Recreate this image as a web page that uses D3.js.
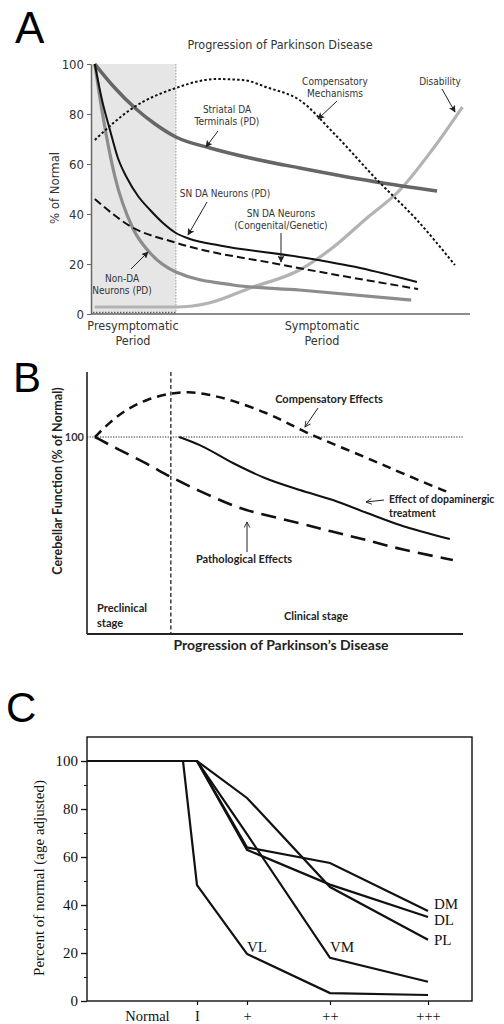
<!DOCTYPE html>
<html>
<head>
<meta charset="utf-8">
<script src="https://cdn.jsdelivr.net/npm/d3@7"></script>
<style>
body { margin: 0; background: #fff; }
svg { display: block; }
.narrow { font-family: "Liberation Sans Narrow", "Arial Narrow", "DejaVu Sans Condensed", sans-serif; }
.calib { font-family: Lato, "Open Sans", sans-serif; font-weight: 700; }
.serif { font-family: "Liberation Serif", "Times New Roman", serif; }
.letter { font-family: "Liberation Sans", Arial, sans-serif; }
</style>
</head>
<body>
<div class="canvas"></div>
<script>
// ---------- panel A: [time, % of normal]
const presympEnd = 22.4;
const aTicks = [0, 20, 40, 60, 80, 100];
const striatal   = [[1,100],[6.3,90.4],[11.6,82.4],[16.9,76],[22.4,70.8],[31.4,66.4],[42,62.4],[55.1,58.4],[77,52.4],[91.3,49.2]];
const compensA   = [[1,69.6],[11,82.4],[22.4,90.4],[33,94],[40,93.6],[46.5,90.6],[55,85.6],[64,72.4],[75.5,53.6],[86,37.6],[96,19.6]];
const disability = [[1,2.8],[22.4,2.8],[31.4,4.5],[42,10.4],[55,17.6],[64,26.8],[72.8,38.4],[81.5,49.6],[90,65.6],[98,82.8]];
const snPD       = [[1,100],[2.9,85.6],[5,73.6],[7.1,62.4],[9.5,54.4],[12.4,47.2],[15.6,41.6],[19,36.4],[22.4,32.4],[26.1,30],[34,27.4],[55,22.8],[71,18.4],[86,12.8]];
const snGenetic  = [[1,46],[10.5,35],[22.4,28.5],[50.7,19.6],[86.3,10]];
const nonDA      = [[1,100],[2.4,86],[6.3,55],[11,34.4],[15.6,24.4],[22.4,16.8],[37.5,11.6],[55,9.6],[84.5,5.6]];

// ---------- panel B: [time, cerebellar function %]
const clinicalStart = 22.3;
const compensB  = [[2.1,100],[6.1,107.6],[10.6,114.2],[16,119.2],[22.3,122.4],[27,123],[32,121.8],[38.8,118.6],[47.9,112.2],[54,106.5],[60.1,100.5],[74.5,89.5],[83.2,82],[96.5,71.6]];
const patholB   = [[2.1,100],[8,94],[16,86.5],[22.3,79.5],[30,72.5],[38.8,65],[44.1,61.8],[56.6,56.3],[65.4,51.8],[74.5,47.7],[83.2,43],[97.3,37.6]];
const treatB    = [[24.5,100],[30,95.9],[38.8,86.8],[47.3,79.2],[56.6,73.1],[65.4,68],[74.5,61.4],[83.2,55.3],[96.5,48.2]];

// ---------- panel C: [grade position, % of normal]
const gradeLabels = ['Normal', 'I', '+', '++', '+++'];
const gradePos    = [0, 1, 2, 3.66, 5.62];
const cTicks      = [0, 20, 40, 60, 80, 100];
const cMinor      = [10, 30, 50, 70, 90];
const seriesC = {
  VL: [[-1.2,100],[0.72,100],[1,48.3],[2,19.6],[3.66,3.3],[5.62,2.5]],
  VM: [[-1.2,100],[1,100],[2,69.5],[3.66,18],[5.62,8]],
  DM: [[-1.2,100],[1,100],[2,64],[3.66,57.5],[5.62,37.5]],
  DL: [[-1.2,100],[1,100],[2,63],[3.66,48.5],[5.62,35]],
  PL: [[-1.2,100],[1,100],[2,84.6],[3.66,47.5],[5.62,25.5]]
};

const svg = d3.select('.canvas').append('svg')
    .attr('width', 504)
    .attr('height', 1024);

const defs = svg.append('defs');
defs.append('marker').attr('id', 'arrFill')
    .attr('viewBox', '0 0 10 10').attr('refX', 9).attr('refY', 5)
    .attr('markerWidth', 7).attr('markerHeight', 7)
    .attr('markerUnits', 'userSpaceOnUse').attr('orient', 'auto')
  .append('path').attr('d', 'M0,0 L10,5 L0,10 L2,5 Z').attr('fill', '#222');
defs.append('marker').attr('id', 'arrOpen')
    .attr('viewBox', '0 0 10 10').attr('refX', 9).attr('refY', 5)
    .attr('markerWidth', 7).attr('markerHeight', 7)
    .attr('markerUnits', 'userSpaceOnUse').attr('orient', 'auto')
  .append('path').attr('d', 'M1,1 L9,5 L1,9').attr('fill', 'none')
    .attr('stroke', '#222').attr('stroke-width', 1.3);

function arrow(g, x1, y1, x2, y2, marker) {
  g.append('line')
    .attr('x1', x1).attr('y1', y1).attr('x2', x2).attr('y2', y2)
    .attr('stroke', '#222').attr('stroke-width', 1)
    .attr('marker-end', `url(#${marker})`);
}

function label(g, cls, txt, x, y, size, anchor, fill) {
  return g.append('text').attr('class', cls)
    .attr('x', x).attr('y', y)
    .attr('font-size', size)
    .attr('text-anchor', anchor || 'middle')
    .attr('fill', fill || '#333')
    .text(txt);
}

// panel letters
label(svg, 'letter', 'A', 15, 43, 44, 'start', '#000');
label(svg, 'letter', 'B', 13, 392, 42, 'start', '#000');
label(svg, 'letter', 'C', 6, 722, 42, 'start', '#000');

// ================= PANEL A =================
const ax = d3.scaleLinear().domain([0, 100]).range([91, 470]);
const ay = d3.scaleLinear().domain([0, 100]).range([314, 64]);
const gA = svg.append('g');

gA.append('rect')
  .attr('x', ax(0)).attr('y', ay(100))
  .attr('width', ax(presympEnd) - ax(0)).attr('height', ay(0) - ay(100))
  .attr('fill', '#e6e6e6');
gA.append('line')
  .attr('x1', ax(presympEnd)).attr('x2', ax(presympEnd))
  .attr('y1', ay(100)).attr('y2', ay(0))
  .attr('stroke', '#999').attr('stroke-dasharray', '1.5,1.5');
gA.append('line')
  .attr('x1', ax(0) + 2).attr('x2', ax(presympEnd))
  .attr('y1', ay(0) - 1.5).attr('y2', ay(0) - 1.5)
  .attr('stroke', '#666').attr('stroke-width', 1.3).attr('stroke-dasharray', '1.5,1.5');

const yAxisA = gA.append('g')
  .attr('class', 'narrow')
  .attr('transform', `translate(${ax(0)},0)`)
  .call(d3.axisLeft(ay).tickValues(aTicks).tickSize(4).tickSizeOuter(0).tickPadding(3));
yAxisA.select('.domain').attr('stroke', '#666').attr('stroke-width', 1.5);
yAxisA.selectAll('.tick line').attr('stroke', '#666');
yAxisA.selectAll('.tick text').attr('font-size', 13).attr('fill', '#333').attr('font-family', null);

gA.append('line')
  .attr('x1', ax(0)).attr('x2', ax(100))
  .attr('y1', ay(0)).attr('y2', ay(0))
  .attr('stroke', '#666').attr('stroke-width', 1.5);

const lineA = d3.line()
  .x(d => ax(d[0]))
  .y(d => ay(d[1]))
  .curve(d3.curveMonotoneX);

const aSeries = [
  {data: disability, color: '#b3b3b3', w: 3.2, dash: null},
  {data: nonDA,      color: '#8c8c8c', w: 3.2, dash: null},
  {data: striatal,   color: '#666666', w: 3.5, dash: null},
  {data: compensA,   color: '#111111', w: 2,   dash: '2.5,2.2'},
  {data: snGenetic,  color: '#111111', w: 2,   dash: '8,4'},
  {data: snPD,       color: '#111111', w: 2,   dash: null}
];
aSeries.forEach(s => {
  gA.append('path')
    .attr('d', lineA(s.data))
    .attr('fill', 'none')
    .attr('stroke', s.color)
    .attr('stroke-width', s.w)
    .attr('stroke-dasharray', s.dash);
});

label(gA, 'narrow', 'Progression of Parkinson Disease', 280, 49, 12.5);
gA.append('text').attr('class', 'narrow')
  .attr('transform', 'translate(59,188) rotate(-90)')
  .attr('text-anchor', 'middle').attr('font-size', 13).attr('fill', '#333')
  .text('% of Normal');

label(gA, 'narrow', 'Presymptomatic', 133, 330, 12.5);
label(gA, 'narrow', 'Period', 133, 345, 12.5);
label(gA, 'narrow', 'Symptomatic', 322, 330, 12.5);
label(gA, 'narrow', 'Period', 322, 345, 12.5);

label(gA, 'narrow', 'Compensatory', 335, 85, 10);
label(gA, 'narrow', 'Mechanisms', 335, 97, 10);
arrow(gA, 337, 101, 318, 119, 'arrFill');
label(gA, 'narrow', 'Disability', 440, 85, 10);
arrow(gA, 442, 89, 455, 112, 'arrFill');
label(gA, 'narrow', 'Striatal DA', 227, 113, 10);
label(gA, 'narrow', 'Terminals (PD)', 227, 125, 10);
arrow(gA, 218, 131, 206, 147, 'arrFill');
label(gA, 'narrow', 'SN DA Neurons (PD)', 225, 197, 10);
arrow(gA, 207, 202, 188, 235, 'arrFill');
label(gA, 'narrow', 'SN DA Neurons', 281, 217, 10);
label(gA, 'narrow', '(Congenital/Genetic)', 281, 229, 10);
arrow(gA, 281, 233, 281, 262, 'arrFill');
label(gA, 'narrow', 'Non-DA', 122, 282, 10);
label(gA, 'narrow', 'Neurons (PD)', 122, 294, 10);
arrow(gA, 131, 269, 148, 252, 'arrFill');

// ================= PANEL B =================
const bx = d3.scaleLinear().domain([0, 100]).range([87, 463]);
const by = d3.scaleLinear().domain([0, 133]).range([634, 372]);
const gB = svg.append('g');

gB.append('line')
  .attr('x1', bx(0)).attr('x2', bx(0)).attr('y1', by(133)).attr('y2', by(0))
  .attr('stroke', '#111').attr('stroke-width', 1.5);
gB.append('line')
  .attr('x1', bx(0)).attr('x2', bx(100)).attr('y1', by(0)).attr('y2', by(0))
  .attr('stroke', '#222').attr('stroke-width', 1.8);
gB.append('line')
  .attr('x1', bx(0)).attr('x2', bx(100)).attr('y1', by(100)).attr('y2', by(100))
  .attr('stroke', '#333').attr('stroke-width', 1.2).attr('stroke-dasharray', '1.3,1.3');
gB.append('line')
  .attr('x1', bx(clinicalStart)).attr('x2', bx(clinicalStart)).attr('y1', by(133)).attr('y2', by(0))
  .attr('stroke', '#222').attr('stroke-width', 1.3).attr('stroke-dasharray', '4,2.5');

label(gB, 'calib', '100', bx(0) - 3, by(100) + 4, 11, 'end', '#333').attr('font-weight', 400);

const curveB = d3.line()
  .x(d => bx(d[0]))
  .y(d => by(d[1]))
  .curve(d3.curveBasis);
const lineB = d3.line()
  .x(d => bx(d[0]))
  .y(d => by(d[1]))
  .curve(d3.curveMonotoneX);

const bSeries = [
  {data: compensB, gen: curveB, w: 2.5, dash: '9,6'},
  {data: patholB,  gen: curveB, w: 2.6, dash: '15,8'},
  {data: treatB,   gen: lineB,  w: 2,   dash: null}
];
bSeries.forEach(s => {
  gB.append('path')
    .attr('d', s.gen(s.data))
    .attr('fill', 'none')
    .attr('stroke', '#111')
    .attr('stroke-width', s.w)
    .attr('stroke-dasharray', s.dash);
});

label(gB, 'calib', 'Compensatory Effects', 329, 403, 11, 'middle', '#222');
arrow(gB, 318, 408, 305, 427, 'arrOpen');
label(gB, 'calib', 'Effect of dopaminergic', 389, 503, 10.5, 'start', '#222');
label(gB, 'calib', 'treatment', 389, 517, 10.5, 'start', '#222');
arrow(gB, 384, 500, 366, 502, 'arrOpen');
label(gB, 'calib', 'Pathological Effects', 244, 563, 11, 'middle', '#222');
arrow(gB, 247, 552, 247, 522, 'arrOpen');
label(gB, 'calib', 'Preclinical', 97, 612, 11, 'start', '#222');
label(gB, 'calib', 'stage', 97, 627, 11, 'start', '#222');
label(gB, 'calib', 'Clinical stage', 316, 620, 11, 'middle', '#222');
label(gB, 'calib', 'Progression of Parkinson\u2019s Disease', 281, 650, 14, 'middle', '#222');
gB.append('text').attr('class', 'calib')
  .attr('transform', 'translate(62,481) rotate(-90)')
  .attr('text-anchor', 'middle').attr('font-size', 12.5).attr('fill', '#222')
  .text('Cerebellar Function (% of Normal)');

// ================= PANEL C =================
const cx = d3.scaleLinear().domain([-1.2, 6.5]).range([87, 472]);
const cy = d3.scaleLinear().domain([0, 100]).range([1001, 761]);
const gC = svg.append('g');

gC.append('rect')
  .attr('x', cx(-1.2)).attr('y', cy(110))
  .attr('width', cx(6.5) - cx(-1.2)).attr('height', cy(0) - cy(110))
  .attr('fill', 'none').attr('stroke', '#111').attr('stroke-width', 1.4);

const yAxisC = gC.append('g')
  .attr('class', 'serif')
  .attr('transform', `translate(${cx(-1.2)},0)`)
  .call(d3.axisLeft(cy).tickValues(cTicks).tickSize(6).tickSizeOuter(0).tickPadding(3));
yAxisC.select('.domain').remove();
yAxisC.selectAll('.tick line').attr('stroke', '#111').attr('stroke-width', 1.3);
yAxisC.selectAll('.tick text').attr('font-size', 15).attr('fill', '#111').attr('font-family', null);

const yMinorC = gC.append('g')
  .attr('transform', `translate(${cx(-1.2)},0)`)
  .call(d3.axisLeft(cy).tickValues(cMinor).tickSize(3).tickFormat(''));
yMinorC.select('.domain').remove();
yMinorC.selectAll('.tick line').attr('stroke', '#111');

const xAxisC = gC.append('g')
  .attr('class', 'serif')
  .attr('transform', `translate(0,${cy(0)})`)
  .call(d3.axisBottom(cx).tickValues(gradePos)
    .tickFormat((d, i) => gradeLabels[i]).tickSize(4).tickPadding(6));
xAxisC.select('.domain').remove();
xAxisC.selectAll('.tick line').attr('stroke', '#111').attr('stroke-width', 1.2)
  .attr('opacity', (d, i) => i === 0 ? 0 : 1);
xAxisC.selectAll('.tick text').attr('font-size', 14.5).attr('fill', '#111').attr('font-family', null);

gC.append('text').attr('class', 'serif')
  .attr('transform', 'translate(44,878) rotate(-90)')
  .attr('text-anchor', 'middle').attr('font-size', 15).attr('fill', '#111')
  .text('Percent of normal (age adjusted)');

const lineC = d3.line()
  .x(d => cx(d[0]))
  .y(d => cy(d[1]));

Object.keys(seriesC).forEach(k => {
  gC.append('path')
    .attr('d', lineC(seriesC[k]))
    .attr('fill', 'none')
    .attr('stroke', '#111')
    .attr('stroke-width', 2.2)
    .attr('stroke-linejoin', 'miter');
});

const endX = gradePos[4];
label(gC, 'serif', 'VL', cx(gradePos[2]), cy(19.6) - 2, 15, 'start', '#111');
label(gC, 'serif', 'VM', cx(gradePos[3]), cy(18) - 6, 15, 'start', '#111');
label(gC, 'serif', 'DM', cx(endX) + 6, cy(37.5) - 2, 15, 'start', '#111');
label(gC, 'serif', 'DL', cx(endX) + 6, cy(37.5) + 14, 15, 'start', '#111');
label(gC, 'serif', 'PL', cx(endX) + 6, cy(25.5) + 5, 15, 'start', '#111');
</script>
</body>
</html>
